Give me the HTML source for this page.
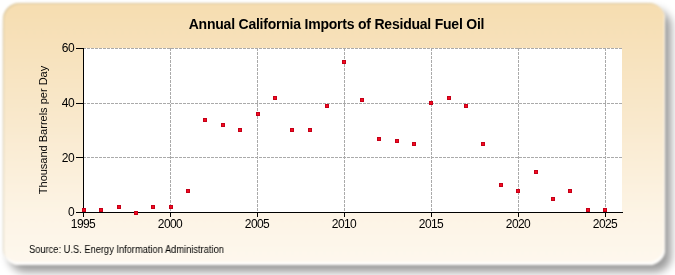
<!DOCTYPE html>
<html><head><meta charset="utf-8"><style>
html,body{margin:0;padding:0;background:#fff;width:675px;height:275px;overflow:hidden}
body{position:relative;font-family:"Liberation Sans",sans-serif;color:#000}
.t{will-change:transform}
.wrap{position:absolute;left:0;top:0;width:675px;height:275px;filter:blur(0.9px)}
.panel{position:absolute;left:3px;top:3px;width:662px;height:262px;border-radius:16px;box-sizing:border-box;
background:linear-gradient(to bottom,#f6ddb0 0%,#f9e9cd 45%,#fdf4e5 80%,#fef8ee 100%);
box-shadow:inset 1px 1px 0 rgba(150,140,100,0.3),inset -1px -3px 0 rgba(255,255,255,0.8),6px 7px 8px 0px rgba(0,0,0,0.40)}
svg{position:absolute;left:0;top:0}
.title{position:absolute;left:-1px;width:675px;top:16px;text-align:center;font-weight:bold;font-size:14px;letter-spacing:-0.22px;line-height:16px;white-space:nowrap}
.yl{position:absolute;left:30px;width:44px;text-align:right;font-size:12px;line-height:16px;letter-spacing:-0.6px}
.xl{position:absolute;top:217px;width:60px;text-align:center;font-size:12px;line-height:14px;letter-spacing:-0.6px}
.ytitle{position:absolute;left:43px;top:130px;width:200px;height:14px;margin-left:-100px;margin-top:-7px;text-align:center;font-size:11px;line-height:14px;transform:rotate(-90deg);white-space:nowrap}
.src{position:absolute;left:28.5px;top:244px;font-size:10px;line-height:12px;transform:scaleX(0.93);transform-origin:0 0;white-space:nowrap}
</style></head><body>
<div class="wrap"><div class="panel"></div></div>
<svg width="675" height="275" viewBox="0 0 675 275" shape-rendering="crispEdges">
<rect x="84" y="48" width="538" height="164" fill="#ffffff"/>
<line x1="83" y1="48.5" x2="622" y2="48.5" stroke="#aaaaaa" stroke-width="1" stroke-dasharray="3 1"/>
<line x1="83" y1="103.5" x2="622" y2="103.5" stroke="#aaaaaa" stroke-width="1" stroke-dasharray="3 1"/>
<line x1="83" y1="157.5" x2="622" y2="157.5" stroke="#aaaaaa" stroke-width="1" stroke-dasharray="3 1"/>
<line x1="170.5" y1="48" x2="170.5" y2="212" stroke="#aaaaaa" stroke-width="1" stroke-dasharray="3 1"/>
<line x1="257.5" y1="48" x2="257.5" y2="212" stroke="#aaaaaa" stroke-width="1" stroke-dasharray="3 1"/>
<line x1="344.5" y1="48" x2="344.5" y2="212" stroke="#aaaaaa" stroke-width="1" stroke-dasharray="3 1"/>
<line x1="431.5" y1="48" x2="431.5" y2="212" stroke="#aaaaaa" stroke-width="1" stroke-dasharray="3 1"/>
<line x1="518.5" y1="48" x2="518.5" y2="212" stroke="#aaaaaa" stroke-width="1" stroke-dasharray="3 1"/>
<line x1="605.5" y1="48" x2="605.5" y2="212" stroke="#aaaaaa" stroke-width="1" stroke-dasharray="3 1"/>
<line x1="83.5" y1="48" x2="83.5" y2="217" stroke="#000" stroke-width="1"/>
<line x1="76" y1="212.5" x2="623" y2="212.5" stroke="#000" stroke-width="1"/>
<line x1="76" y1="48.5" x2="83" y2="48.5" stroke="#000" stroke-width="1"/>
<line x1="76" y1="103.5" x2="83" y2="103.5" stroke="#000" stroke-width="1"/>
<line x1="76" y1="157.5" x2="83" y2="157.5" stroke="#000" stroke-width="1"/>
<line x1="170.5" y1="212" x2="170.5" y2="217" stroke="#000" stroke-width="1"/>
<line x1="257.5" y1="212" x2="257.5" y2="217" stroke="#000" stroke-width="1"/>
<line x1="344.5" y1="212" x2="344.5" y2="217" stroke="#000" stroke-width="1"/>
<line x1="431.5" y1="212" x2="431.5" y2="217" stroke="#000" stroke-width="1"/>
<line x1="518.5" y1="212" x2="518.5" y2="217" stroke="#000" stroke-width="1"/>
<line x1="605.5" y1="212" x2="605.5" y2="217" stroke="#000" stroke-width="1"/>
<rect x="82" y="208" width="4" height="4" fill="#c40018"/><rect x="83" y="209" width="2" height="2" fill="#f50a1e"/>
<rect x="99" y="208" width="4" height="4" fill="#c40018"/><rect x="100" y="209" width="2" height="2" fill="#f50a1e"/>
<rect x="117" y="205" width="4" height="4" fill="#c40018"/><rect x="118" y="206" width="2" height="2" fill="#f50a1e"/>
<rect x="134" y="211" width="4" height="4" fill="#c40018"/><rect x="135" y="212" width="2" height="2" fill="#f50a1e"/>
<rect x="151" y="205" width="4" height="4" fill="#c40018"/><rect x="152" y="206" width="2" height="2" fill="#f50a1e"/>
<rect x="169" y="205" width="4" height="4" fill="#c40018"/><rect x="170" y="206" width="2" height="2" fill="#f50a1e"/>
<rect x="186" y="189" width="4" height="4" fill="#c40018"/><rect x="187" y="190" width="2" height="2" fill="#f50a1e"/>
<rect x="203" y="118" width="4" height="4" fill="#c40018"/><rect x="204" y="119" width="2" height="2" fill="#f50a1e"/>
<rect x="221" y="123" width="4" height="4" fill="#c40018"/><rect x="222" y="124" width="2" height="2" fill="#f50a1e"/>
<rect x="238" y="128" width="4" height="4" fill="#c40018"/><rect x="239" y="129" width="2" height="2" fill="#f50a1e"/>
<rect x="256" y="112" width="4" height="4" fill="#c40018"/><rect x="257" y="113" width="2" height="2" fill="#f50a1e"/>
<rect x="273" y="96" width="4" height="4" fill="#c40018"/><rect x="274" y="97" width="2" height="2" fill="#f50a1e"/>
<rect x="290" y="128" width="4" height="4" fill="#c40018"/><rect x="291" y="129" width="2" height="2" fill="#f50a1e"/>
<rect x="308" y="128" width="4" height="4" fill="#c40018"/><rect x="309" y="129" width="2" height="2" fill="#f50a1e"/>
<rect x="325" y="104" width="4" height="4" fill="#c40018"/><rect x="326" y="105" width="2" height="2" fill="#f50a1e"/>
<rect x="342" y="60" width="4" height="4" fill="#c40018"/><rect x="343" y="61" width="2" height="2" fill="#f50a1e"/>
<rect x="360" y="98" width="4" height="4" fill="#c40018"/><rect x="361" y="99" width="2" height="2" fill="#f50a1e"/>
<rect x="377" y="137" width="4" height="4" fill="#c40018"/><rect x="378" y="138" width="2" height="2" fill="#f50a1e"/>
<rect x="395" y="139" width="4" height="4" fill="#c40018"/><rect x="396" y="140" width="2" height="2" fill="#f50a1e"/>
<rect x="412" y="142" width="4" height="4" fill="#c40018"/><rect x="413" y="143" width="2" height="2" fill="#f50a1e"/>
<rect x="429" y="101" width="4" height="4" fill="#c40018"/><rect x="430" y="102" width="2" height="2" fill="#f50a1e"/>
<rect x="447" y="96" width="4" height="4" fill="#c40018"/><rect x="448" y="97" width="2" height="2" fill="#f50a1e"/>
<rect x="464" y="104" width="4" height="4" fill="#c40018"/><rect x="465" y="105" width="2" height="2" fill="#f50a1e"/>
<rect x="481" y="142" width="4" height="4" fill="#c40018"/><rect x="482" y="143" width="2" height="2" fill="#f50a1e"/>
<rect x="499" y="183" width="4" height="4" fill="#c40018"/><rect x="500" y="184" width="2" height="2" fill="#f50a1e"/>
<rect x="516" y="189" width="4" height="4" fill="#c40018"/><rect x="517" y="190" width="2" height="2" fill="#f50a1e"/>
<rect x="534" y="170" width="4" height="4" fill="#c40018"/><rect x="535" y="171" width="2" height="2" fill="#f50a1e"/>
<rect x="551" y="197" width="4" height="4" fill="#c40018"/><rect x="552" y="198" width="2" height="2" fill="#f50a1e"/>
<rect x="568" y="189" width="4" height="4" fill="#c40018"/><rect x="569" y="190" width="2" height="2" fill="#f50a1e"/>
<rect x="586" y="208" width="4" height="4" fill="#c40018"/><rect x="587" y="209" width="2" height="2" fill="#f50a1e"/>
<rect x="603" y="208" width="4" height="4" fill="#c40018"/><rect x="604" y="209" width="2" height="2" fill="#f50a1e"/>
</svg>
<div class="title t">Annual California Imports of Residual Fuel Oil</div>
<div class="yl t" style="top:40px">60</div>
<div class="yl t" style="top:95px">40</div>
<div class="yl t" style="top:150px">20</div>
<div class="yl t" style="top:204px">0</div>
<div class="xl t" style="left:53px">1995</div>
<div class="xl t" style="left:140px">2000</div>
<div class="xl t" style="left:227px">2005</div>
<div class="xl t" style="left:314px">2010</div>
<div class="xl t" style="left:401px">2015</div>
<div class="xl t" style="left:488px">2020</div>
<div class="xl t" style="left:575px">2025</div>
<div class="ytitle t">Thousand Barrels per Day</div>
<div class="src t">Source: U.S. Energy Information Administration</div>
</body></html>
